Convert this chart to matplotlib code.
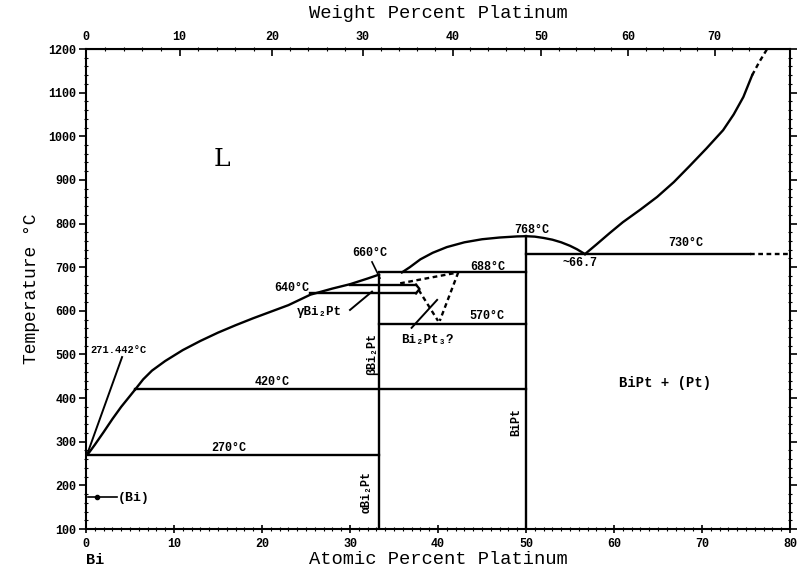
import matplotlib
matplotlib.use('Agg')
import matplotlib.pyplot as plt
import numpy as np

plt.rcParams['font.family'] = ['Liberation Mono', 'DejaVu Sans Mono']
plt.rcParams['font.weight'] = 'bold'

# phase boundaries, atomic % Pt vs temperature (C)
liq_bi_at = [0.2, 1.0, 2.0, 3.0, 4.0, 5.0, 5.6]
liq_bi_T = [271, 293, 322, 352, 380, 405, 420]
liq_mid_at = [5.6, 6.5, 7.5, 9.0, 11.0, 13.0, 15.0, 17.0, 19.0, 21.0, 23.0, 25.5, 28.0, 30.0, 32.0, 33.3]
liq_mid_T = [420, 443, 463, 485, 510, 531, 550, 567, 583, 598, 613, 637, 651, 661, 674, 683]
dome_at = [35.9, 36.8, 38.0, 39.4, 41.0, 43.0, 45.0, 47.0, 49.0, 50.0, 51.0, 52.0, 53.0,
           54.0, 55.0, 55.8, 56.7]
dome_T = [688, 700, 718, 733, 746, 757, 764, 768, 770.5, 771, 770, 767, 763, 757, 749, 741, 730]
liq_pt_at = [56.7, 58.0, 59.5, 61.0, 63.0, 64.9, 66.8, 68.6, 70.5, 72.4, 73.6, 74.7, 75.7]
liq_pt_T = [730, 752, 778, 803, 832, 861, 895, 932, 972, 1014, 1050, 1090, 1140]
liq_pt_dash_at = [75.7, 76.5, 77.4]
liq_pt_dash_T = [1140, 1170, 1200]

# invariant lines: (T, x_start, x_end)
iso_T = [270, 420, 570, 640, 660, 688, 730]
iso_x0 = [0.2, 5.6, 33.3, 25.5, 30.0, 33.3, 50.0]
iso_x1 = [33.3, 50.0, 50.0, 37.5, 37.5, 50.0, 75.5]

# compounds: (x, T_top)
comp_x = [33.3, 50.0]
comp_top = [683, 771]

# dotted Bi2Pt3 region
dot_a_at = [35.7, 42.3]
dot_a_T = [663, 688]
dot_b_at = [37.8, 40.0]
dot_b_T = [648, 577]
dot_c_at = [42.3, 40.2]
dot_c_T = [688, 577]

M_BI = 208.98
M_PT = 195.08


def at2wt(a):
    a = np.asarray(a, dtype=float)
    return 100 * a * M_PT / (a * M_PT + (100 - a) * M_BI)


def wt2at(w):
    w = np.asarray(w, dtype=float)
    return 100 * (w / M_PT) / (w / M_PT + (100 - w) / M_BI)


fig = plt.figure(figsize=(7.97, 5.75), dpi=100)
ax = fig.add_axes([86 / 797, 1 - 529 / 575, 704 / 797, 480 / 575])
lw = 1.7
k = 'black'
dash = (0, (2, 1.5))

ax.plot(liq_bi_at, liq_bi_T, color=k, lw=lw)
ax.plot(liq_mid_at, liq_mid_T, color=k, lw=lw)
ax.plot(dome_at, dome_T, color=k, lw=lw)
ax.plot(liq_pt_at, liq_pt_T, color=k, lw=lw)
ax.plot(liq_pt_dash_at, liq_pt_dash_T, color=k, lw=lw, ls=dash)

for T, x0, x1 in zip(iso_T, iso_x0, iso_x1):
    ax.plot([x0, x1], [T, T], color=k, lw=lw)
ax.plot([75.5, 80], [730, 730], color=k, lw=lw, ls=dash)

for x, top in zip(comp_x, comp_top):
    ax.plot([x, x], [100, top], color=k, lw=lw)

# rounded end of the gamma Bi2Pt field
ax.plot([37.5, 37.9, 37.5], [660, 650, 640], color=k, lw=lw)

ax.plot(dot_a_at, dot_a_T, color=k, lw=lw, ls=dash)
ax.plot(dot_b_at, dot_b_T, color=k, lw=lw, ls=dash)
ax.plot(dot_c_at, dot_c_T, color=k, lw=lw, ls=dash)

# (Bi) solid solution marker
ax.plot([0.2, 3.5], [173, 173], color=k, lw=1.2)
ax.plot([1.2], [173], 'o', color=k, ms=3)

# pointer lines
ax.plot([4.1, 0.2], [494, 275], color=k, lw=1.4)
ax.plot([32.5, 33.4], [712, 675], color=k, lw=1.2)
ax.plot([30.0, 32.5], [602, 644], color=k, lw=1.4)
ax.plot([37.0, 39.9], [561, 625], color=k, lw=1.4)

fs = 8.5
ax.text(15.45, 946, 'L', family='DejaVu Serif', fontsize=18, weight='normal', ha='center', va='center')
ax.text(65.8, 435, 'BiPt + (Pt)', fontsize=10, ha='center', va='center')
ax.text(0.5, 510, '271.442°C', fontsize=7.5, ha='left', va='center')
ax.text(21.1, 437, '420°C', fontsize=fs, ha='center', va='center')
ax.text(16.25, 286, '270°C', fontsize=fs, ha='center', va='center')
ax.text(23.4, 653, '640°C', fontsize=fs, ha='center', va='center')
ax.text(32.2, 733, '660°C', fontsize=fs, ha='center', va='center')
ax.text(45.6, 701, '688°C', fontsize=fs, ha='center', va='center')
ax.text(45.6, 589, '570°C', fontsize=fs, ha='center', va='center')
ax.text(50.6, 786, '768°C', fontsize=fs, ha='center', va='center')
ax.text(68.1, 756, '730°C', fontsize=fs, ha='center', va='center')
ax.text(56.1, 710, '~66.7', fontsize=fs, ha='center', va='center')
ax.text(26.5, 598, 'γBi₂Pt', fontsize=9, ha='center', va='center')
ax.text(38.75, 533, 'Bi₂Pt₃?', fontsize=9, ha='center', va='center')
ax.text(32.5, 501, 'βBi₂Pt', fontsize=8.5, rotation=90, ha='center', va='center')
ax.text(31.9, 185, 'αBi₂Pt', fontsize=8.5, rotation=90, ha='center', va='center')
ax.text(48.9, 345, 'BiPt', fontsize=8.5, rotation=90, ha='center', va='center')
ax.text(5.45, 171, '(Bi)', fontsize=9.5, ha='center', va='center')

ax.set_xlim(0, 80)
ax.set_ylim(100, 1200)
ax.set_xticks(np.arange(0, 81, 10))
ax.set_xticks(np.arange(0, 81, 1), minor=True)
ax.set_yticks(np.arange(100, 1201, 100))
ax.set_yticks(np.arange(100, 1201, 20), minor=True)
ax.tick_params(axis='both', which='major', labelsize=8.5, direction='inout', length=6, width=1.2)
ax.tick_params(axis='both', which='minor', direction='inout', length=2.5, width=0.8)
ax.tick_params(axis='y', which='major', direction='out', length=5, right=True, pad=2)
ax.tick_params(axis='y', which='minor', right=True)
for s in ax.spines.values():
    s.set_linewidth(1.5)

top = ax.secondary_xaxis('top', functions=(at2wt, wt2at))
top.set_xticks(np.arange(0, 71, 10))
top.set_xticks(np.arange(0, 76, 2), minor=True)
top.tick_params(which='major', labelsize=8.5, direction='in', length=5, width=1.2, pad=4)
top.tick_params(which='minor', direction='inout', length=2.5, width=0.8)
top.set_xlabel('Weight Percent Platinum', fontsize=13.5, labelpad=10)

ax.set_xlabel('Atomic Percent Platinum', fontsize=13.5, labelpad=1)
ax.set_ylabel('Temperature °C', fontsize=13, labelpad=6)
fig.text(95 / 797, 1 - 560 / 575, 'Bi', fontsize=11, ha='center', va='center')

fig.savefig('out.png', dpi=100)
